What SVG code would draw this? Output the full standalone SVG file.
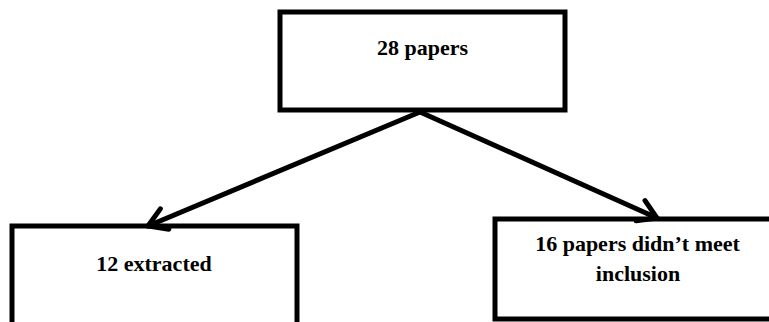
<svg xmlns="http://www.w3.org/2000/svg" width="769" height="322" viewBox="0 0 769 322">
<style>
.box{fill:#fff;stroke:#000;stroke-width:5}
.lbl{font-family:"Liberation Serif","Times New Roman",serif;font-weight:bold;font-size:22px;fill:#000;text-anchor:middle}
.conn{fill:none;stroke:#000;stroke-width:5;stroke-linecap:round}
</style>
<defs>
<marker id="arr" markerUnits="userSpaceOnUse" viewBox="-22 -14 26 28" markerWidth="26" markerHeight="28" refX="0" refY="0" orient="auto">
<path d="M-18,-11 L0,0 L-18,11" fill="none" stroke="#000" stroke-width="5" stroke-linecap="round" stroke-linejoin="miter"/>
</marker>
</defs>
<rect width="769" height="322" fill="#fff"/>
<g id="node-top">
<rect class="box" x="280" y="12" width="285" height="98"/>
<text class="lbl" x="422.5" y="55">28 papers</text>
</g>
<g id="node-left">
<rect class="box" x="12" y="226" width="285" height="120"/>
<text class="lbl" x="154" y="271">12 extracted</text>
</g>
<g id="node-right">
<rect class="box" x="495" y="219" width="300" height="100"/>
<text class="lbl" x="637.5" y="251">16 papers didn’t meet</text>
<text class="lbl" x="638" y="281">inclusion</text>
</g>
<g id="connectors">
<line class="conn" x1="420" y1="112" x2="148" y2="226" marker-end="url(#arr)"/>
<line class="conn" x1="420" y1="112" x2="657" y2="218" marker-end="url(#arr)"/>
</g>
</svg>
